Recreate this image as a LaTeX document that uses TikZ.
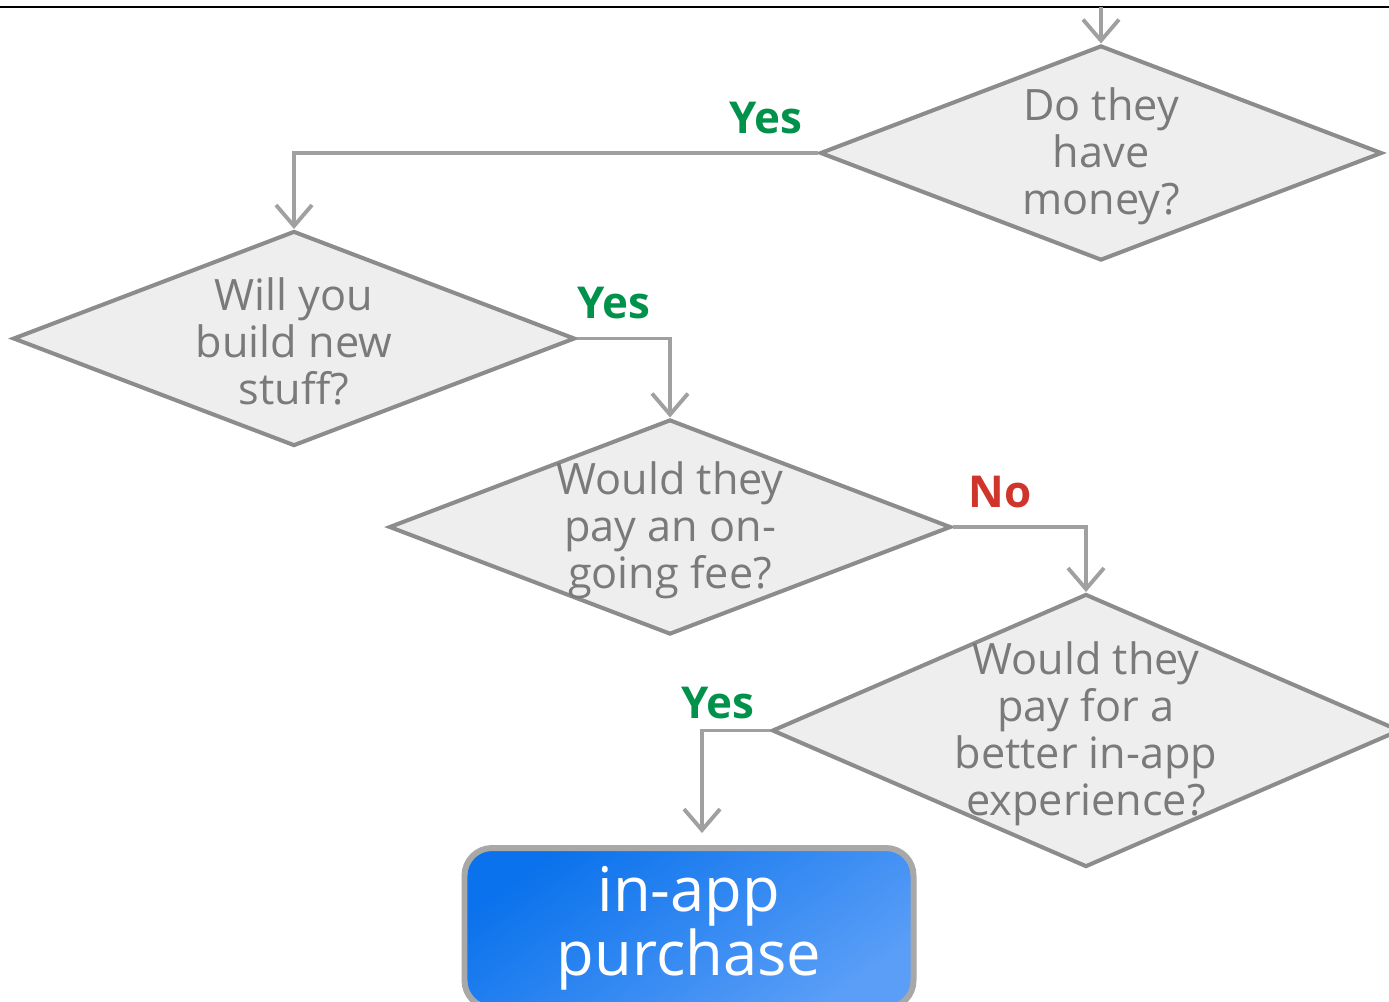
\documentclass[tikz,border=0pt]{standalone}
\usepackage{fontspec}
\setmainfont{Open Sans}
\usetikzlibrary{shapes.geometric,arrows.meta}
\definecolor{qfill}{HTML}{EEEEEE}
\definecolor{qline}{HTML}{8C8C8C}
\definecolor{qtxt}{HTML}{7A7A7A}
\definecolor{wire}{HTML}{A0A0A0}
\definecolor{yesgreen}{HTML}{00924B}
\definecolor{nored}{HTML}{D0352B}
\definecolor{buyA}{HTML}{0A72EC}
\definecolor{buyM}{HTML}{1A7CEE}
\definecolor{buyB}{HTML}{5A9EF7}
\definecolor{buyrim}{HTML}{A8A8A8}
\tikzset{>={Straight Barb[length=0.42cm, width=0.72cm]}}
\tikzset{
    question/.style={diamond, draw=qline, fill=qfill, line width=2.3pt, inner sep=0mm, minimum width=11.240000cm, minimum height=4.300000cm},
    bigquestion/.style={question, minimum width=12.560000cm, minimum height=5.460000cm},
    qtext/.style={text=qtxt, align=center, yshift=-0.060000cm, font=\fontsize{24.6}{26.8}\selectfont},
    answer/.style={font=\bfseries\fontsize{25}{30}\selectfont},
    wireline/.style={draw=wire, line width=2.2pt, ->}
}

\begin{document}
\begin{tikzpicture}
        \useasboundingbox (0cm, 0cm) rectangle (27.780000cm, -20.020000cm);
        \clip (0cm, 0cm) rectangle (27.780000cm, -20.020000cm);
        \draw [line width=1.2pt] (0cm, -0.140000cm) -- (27.780000cm, -0.140000cm);
        \coordinate (top) at (22.020000cm, -0.140000cm);
        \node (q1) [question, label={[qtext]center:{Do they\\have\\money?}}] at (22.020000cm, -3.060000cm) {};
        \node (q2) [question, label={[qtext]center:{Will you\\build new\\stuff?}}] at (5.880000cm, -6.770000cm) {};
        \node (q3) [question, label={[qtext]center:{Would they\\pay an on-\\going fee?}}] at (13.400000cm, -10.540000cm) {};
        \node (q4) [bigquestion, label={[qtext]center:{Would they\\pay for a\\better in-app\\experience?}}] at (21.720000cm, -14.610000cm) {};
        \node (buy) [rectangle, rounded corners=0.55cm, draw=buyrim, line width=3.4pt, top color=buyA, middle color=buyM, bottom color=buyB, shading angle=35, minimum width=8.980000cm, minimum height=3.200000cm, text=white, align=center, font=\fontsize{35}{36.5}\selectfont] at (13.780000cm, -18.560000cm) {in-app\\purchase};
        \node (a1) [answer, text=yesgreen] at (15.320000cm, -2.360000cm) {Yes};
        \node (a2) [answer, text=yesgreen] at (12.280000cm, -6.060000cm) {Yes};
        \node (a3) [answer, text=nored] at (20.000000cm, -9.840000cm) {No};
        \node (a4) [answer, text=yesgreen] at (14.360000cm, -14.060000cm) {Yes};
        \draw [wireline] (top) -- (q1.north);
        \draw [wireline] (q1.west) -| (q2.north);
        \draw [wireline] (q2.east) -| (q3.north);
        \draw [wireline] (q3.east) -| (q4.north);
        \draw [wireline] (q4.west) -| ([xshift=0.260000cm, yshift=0.240000cm]buy.north);
\end{tikzpicture}
\end{document}
